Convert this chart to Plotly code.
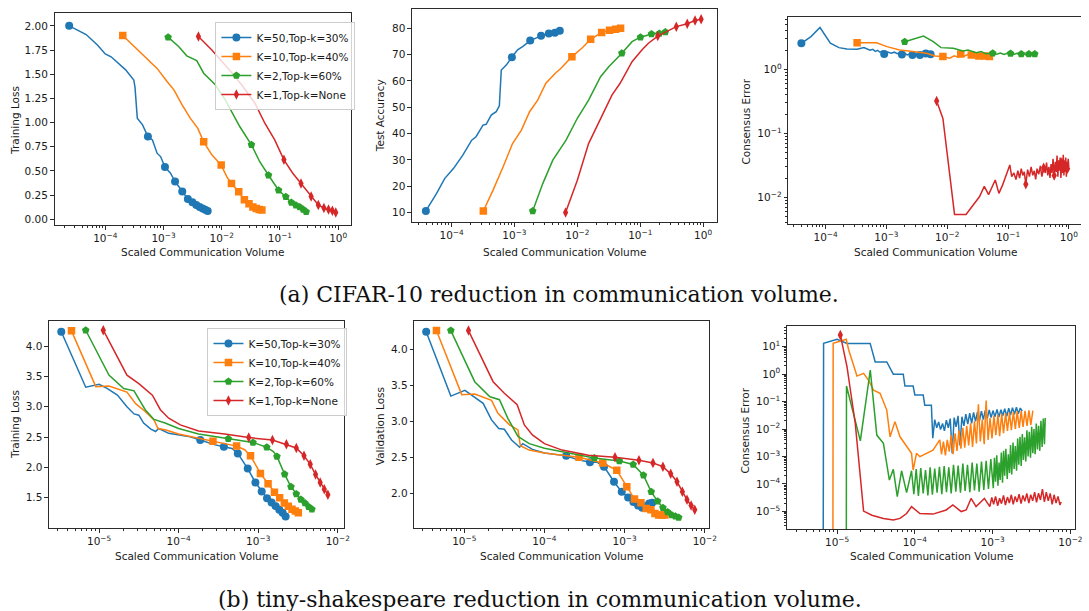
import math
import plotly.graph_objects as go

# ------------------------------------------------------------------
# Series labels, colours and marker shapes (shared by every panel)
# ------------------------------------------------------------------
SERIES_NAMES = ["K=50,Top-k=30%", "K=10,Top-k=40%", "K=2,Top-k=60%", "K=1,Top-k=None"]
COLORS = ["#1f77b4", "#ff7f0e", "#2ca02c", "#d62728"]
SYMBOLS = ["circle", "square", "pentagon", "diamond-tall"]
MSIZE = [8, 7.5, 8, 7.5]

# ------------------------------------------------------------------
# Tick values / labels
# ------------------------------------------------------------------
top_xtick_vals = [1e-4, 1e-3, 1e-2, 1e-1, 1e0]
top_xtick_text = ["10<sup>−4</sup>", "10<sup>−3</sup>", "10<sup>−2</sup>", "10<sup>−1</sup>", "10<sup>0</sup>"]
bot_xtick_vals = [1e-5, 1e-4, 1e-3, 1e-2]
bot_xtick_text = ["10<sup>−5</sup>", "10<sup>−4</sup>", "10<sup>−3</sup>", "10<sup>−2</sup>"]
cons_a_ytick_vals = [1e-2, 1e-1, 1e0]
cons_a_ytick_text = ["10<sup>−2</sup>", "10<sup>−1</sup>", "10<sup>0</sup>"]
cons_b_ytick_vals = [1e-5, 1e-4, 1e-3, 1e-2, 1e-1, 1e0, 1e1]
cons_b_ytick_text = ["10<sup>−5</sup>", "10<sup>−4</sup>", "10<sup>−3</sup>", "10<sup>−2</sup>",
                     "10<sup>−1</sup>", "10<sup>0</sup>", "10<sup>1</sup>"]
loss_a_ytick_vals = [0.0, 0.25, 0.5, 0.75, 1.0, 1.25, 1.5, 1.75, 2.0]
acc_a_ytick_vals = [10, 20, 30, 40, 50, 60, 70, 80]
loss_b_ytick_vals = [1.5, 2.0, 2.5, 3.0, 3.5, 4.0]
val_b_ytick_vals = [2.0, 2.5, 3.0, 3.5, 4.0]

# ------------------------------------------------------------------
# (a) CIFAR-10 : training loss
# ------------------------------------------------------------------
loss_a_k50_x = [2.4e-5, 4.7e-5, 7.4e-5, 1.0e-4, 1.26e-4, 1.74e-4, 2.24e-4, 3.09e-4, 3.24e-4, 3.55e-4,
                4.37e-4, 5.4e-4, 6.46e-4, 7.76e-4, 8.91e-4, 1.06e-3, 1.32e-3, 1.58e-3, 2.10e-3, 2.62e-3,
                3.14e-3, 3.66e-3, 4.18e-3, 4.70e-3, 5.22e-3, 5.74e-3]
loss_a_k50_y = [2.00, 1.91, 1.80, 1.71, 1.68, 1.60, 1.545, 1.44, 1.366, 1.045,
                0.976, 0.855, 0.82, 0.683, 0.648, 0.54, 0.476, 0.39, 0.286, 0.21,
                0.175, 0.148, 0.125, 0.11, 0.097, 0.085]
loss_a_k50_mk = [2.4e-5, 5.4e-4, 1.06e-3, 1.58e-3, 2.10e-3, 2.62e-3, 3.14e-3, 3.66e-3, 4.18e-3, 4.70e-3,
                 5.22e-3, 5.74e-3]

loss_a_k10_x = [2.0e-4, 4.37e-4, 7.76e-4, 1.15e-3, 1.51e-3, 2.09e-3, 2.88e-3, 3.89e-3, 4.9e-3, 6.76e-3,
                9.8e-3, 1.22e-2, 1.47e-2, 1.96e-2, 2.45e-2, 2.94e-2, 3.43e-2, 3.92e-2, 4.41e-2, 4.9e-2]
loss_a_k10_y = [1.90, 1.70, 1.56, 1.424, 1.338, 1.183, 1.045, 0.94, 0.80, 0.666,
                0.56, 0.441, 0.37, 0.285, 0.20, 0.16, 0.125, 0.11, 0.10, 0.095]
loss_a_k10_mk = [2.0e-4, 4.9e-3, 9.8e-3, 1.47e-2, 1.96e-2, 2.45e-2, 2.94e-2, 3.43e-2, 3.92e-2, 4.41e-2, 4.9e-2]

loss_a_k2_x = [1.2e-3, 1.82e-3, 2.51e-3, 3.72e-3, 4.90e-3, 7.76e-3, 1.15e-2, 1.58e-2, 2.04e-2, 3.24e-2,
               4.47e-2, 6.36e-2, 9.48e-2, 0.126, 0.157, 0.188, 0.219, 0.251, 0.282]
loss_a_k2_y = [1.883, 1.786, 1.69, 1.641, 1.51, 1.39, 1.234, 1.079, 0.959, 0.769,
               0.597, 0.455, 0.30, 0.232, 0.172, 0.145, 0.125, 0.10, 0.078]
loss_a_k2_mk = [1.2e-3, 3.24e-2, 6.36e-2, 9.48e-2, 0.126, 0.157, 0.188, 0.219, 0.251, 0.282]

loss_a_k1_x = [3.98e-3, 6.76e-3, 1.29e-2, 2.19e-2, 3.72e-2, 5.5e-2, 8.13e-2, 0.117, 0.166, 0.230,
               0.343, 0.456, 0.569, 0.682, 0.795, 0.908]
loss_a_k1_y = [1.89, 1.75, 1.56, 1.39, 1.20, 0.993, 0.82, 0.614, 0.476, 0.37,
               0.234, 0.148, 0.115, 0.10, 0.088, 0.07]
loss_a_k1_mk = [3.98e-3, 0.117, 0.230, 0.343, 0.456, 0.569, 0.682, 0.795, 0.908]

# ------------------------------------------------------------------
# (a) CIFAR-10 : test accuracy
# ------------------------------------------------------------------
acc_a_k50_x = [3.9e-5, 5.75e-5, 7.76e-5, 1.07e-4, 1.51e-4, 2.09e-4, 2.45e-4, 3.16e-4, 3.55e-4, 4.27e-4,
               5.13e-4, 5.75e-4, 6.17e-4, 7.41e-4, 9.1e-4, 1.12e-3, 1.35e-3, 1.78e-3, 2.65e-3, 3.52e-3,
               4.39e-3, 5.26e-3]
acc_a_k50_y = [10.6, 17.2, 22.9, 26.7, 31.8, 37.5, 38.8, 43.2, 43.5, 47.0,
               48.3, 50.5, 64.1, 66.0, 69.0, 71.8, 73.0, 75.3, 77.1, 78.0,
               78.3, 79.0]
acc_a_k50_mk = [3.9e-5, 9.1e-4, 1.78e-3, 2.65e-3, 3.52e-3, 4.39e-3, 5.26e-3]

acc_a_k10_x = [3.2e-4, 4.57e-4, 6.61e-4, 9.33e-4, 1.29e-3, 1.74e-3, 2.34e-3, 3.16e-3, 4.47e-3, 5.5e-3,
               8.2e-3, 1.2e-2, 1.63e-2, 2.44e-2, 3.25e-2, 4.06e-2, 4.87e-2]
acc_a_k10_y = [10.6, 18.5, 27.4, 36.2, 41.3, 48.3, 52.7, 59.1, 62.9, 64.8,
               69.2, 72.6, 75.8, 78.4, 79.2, 79.6, 80.0]
acc_a_k10_mk = [3.2e-4, 8.2e-3, 1.63e-2, 2.44e-2, 3.25e-2, 4.06e-2, 4.87e-2]

acc_a_k2_x = [1.95e-3, 2.82e-3, 4.07e-3, 6.61e-3, 1.0e-2, 1.51e-2, 2.34e-2, 3.16e-2, 5.1e-2, 7.41e-2,
              0.101, 0.151, 0.201, 0.251, 0.27]
acc_a_k2_y = [10.6, 21.0, 29.9, 37.5, 45.8, 52.7, 61.6, 65.4, 70.5, 74.9,
              76.6, 77.8, 78.0, 78.6, 78.7]
acc_a_k2_mk = [1.95e-3, 5.1e-2, 0.101, 0.151, 0.201, 0.251]

acc_a_k1_x = [6.5e-3, 1.0e-2, 1.51e-2, 2.45e-2, 3.55e-2, 4.79e-2, 7.41e-2, 0.107, 0.135, 0.19,
              0.375, 0.56, 0.745, 0.93]
acc_a_k1_y = [10.0, 22.3, 36.2, 46.4, 54.6, 59.1, 67.3, 71.8, 74.3, 77.0,
              80.6, 81.7, 82.9, 83.4]
acc_a_k1_mk = [6.5e-3, 0.19, 0.375, 0.56, 0.745, 0.93]

# ------------------------------------------------------------------
# (a) CIFAR-10 : consensus error
# ------------------------------------------------------------------
cons_a_k50_x = [4.0e-5, 5.75e-5, 8.1e-5, 1.2e-4, 1.66e-4, 2.24e-4, 3.31e-4, 4.27e-4, 5.37e-4, 6.0e-4,
                6.6e-4, 7.2e-4, 7.8e-4, 8.5e-4, 9.2e-4, 1.05e-3, 1.2e-3, 1.35e-3, 1.5e-3, 1.65e-3,
                1.8e-3, 2.0e-3, 2.2e-3, 2.45e-3, 2.68e-3, 2.9e-3, 3.2e-3, 3.56e-3, 3.8e-3, 4.1e-3,
                4.44e-3, 4.8e-3, 5.32e-3, 5.6e-3]
cons_a_k50_y = [2.55, 3.24, 4.5, 2.55, 2.18, 2.08, 2.05, 2.18, 1.98, 2.05,
                1.9, 1.98, 1.85, 1.92, 1.74, 1.86, 1.78, 1.85, 1.75, 1.82,
                1.71, 1.78, 1.68, 1.74, 1.67, 1.72, 1.66, 1.67, 1.74, 1.65,
                1.76, 1.70, 1.72, 1.70]
cons_a_k50_mk = [4.0e-5, 9.2e-4, 1.8e-3, 2.68e-3, 3.56e-3, 4.44e-3, 5.32e-3]

cons_a_k10_x = [3.3e-4, 6.9e-4, 1.02e-3, 1.66e-3, 2.75e-3, 4.57e-3, 6.3e-3, 8.5e-3, 1.1e-2, 1.3e-2,
                1.5e-2, 1.67e-2, 1.9e-2, 2.2e-2, 2.49e-2, 2.8e-2, 3.1e-2, 3.31e-2, 3.6e-2, 3.9e-2,
                4.13e-2, 4.5e-2, 4.95e-2, 5.3e-2]
cons_a_k10_y = [2.6, 2.6, 2.26, 2.0, 1.89, 1.78, 1.61, 1.58, 1.49, 1.62,
                1.55, 1.74, 1.6, 1.7, 1.67, 1.58, 1.68, 1.61, 1.70, 1.57,
                1.62, 1.55, 1.58, 1.52]
cons_a_k10_mk = [3.3e-4, 8.5e-3, 1.67e-2, 2.49e-2, 3.31e-2, 4.13e-2, 4.95e-2]

cons_a_k2_x = [2.0e-3, 4.07e-3, 5.9e-3, 7.9e-3, 1.26e-2, 1.82e-2, 2.2e-2, 3.0e-2, 3.6e-2, 4.3e-2,
               5.6e-2, 6.5e-2, 7.5e-2, 8.6e-2, 9.7e-2, 0.11, 0.125, 0.14, 0.155, 0.165,
               0.18, 0.195, 0.22, 0.235, 0.25, 0.275, 0.29]
cons_a_k2_y = [2.7, 3.31, 2.7, 2.18, 2.13, 1.93, 2.0, 1.82, 1.9, 1.75,
               1.78, 1.72, 1.8, 1.7, 1.78, 1.76, 1.7, 1.78, 1.68, 1.74,
               1.8, 1.68, 1.73, 1.78, 1.66, 1.74, 1.68]
cons_a_k2_mk = [2.0e-3, 5.6e-2, 0.11, 0.165, 0.22, 0.275]

cons_a_k1_x = [6.7e-3, 8.5e-3, 1.32e-2, 2.04e-2, 3.39e-2, 4.07e-2, 4.79e-2, 6.17e-2, 7.08e-2, 8.13e-2,
               9.77e-2, 0.107,
               0.115, 0.125, 0.135, 0.145, 0.155, 0.165, 0.175, 0.185, 0.196, 0.21,
               0.225, 0.24, 0.255, 0.27, 0.285, 0.30, 0.32, 0.34, 0.36, 0.385,
               0.41, 0.43, 0.45, 0.47, 0.49, 0.51, 0.53, 0.55, 0.574, 0.60,
               0.62, 0.64, 0.66, 0.68, 0.70, 0.72, 0.74, 0.763, 0.79, 0.81,
               0.83, 0.85, 0.87, 0.89, 0.91, 0.93, 0.952, 0.975, 1.0]
cons_a_k1_y = [0.32, 0.171, 0.0054, 0.0054, 0.0102, 0.0148, 0.011, 0.0186, 0.0115, 0.0155,
               0.0251, 0.032,
               0.021, 0.024, 0.019, 0.026, 0.02, 0.028, 0.022, 0.025, 0.016, 0.027,
               0.021, 0.03, 0.022, 0.026, 0.019, 0.028, 0.023, 0.031, 0.021, 0.029,
               0.024, 0.035, 0.022, 0.03, 0.02, 0.033, 0.024, 0.04, 0.022, 0.036,
               0.025, 0.045, 0.021, 0.038, 0.026, 0.042, 0.02, 0.035, 0.024, 0.046,
               0.022, 0.038, 0.025, 0.042, 0.021, 0.036, 0.028, 0.04, 0.03]
cons_a_k1_mk = [6.7e-3, 0.196, 0.385, 0.574, 0.763, 0.952]

# ------------------------------------------------------------------
# (b) tiny-shakespeare : training loss
# ------------------------------------------------------------------
loss_b_k50_x = [3.35e-6, 6.8e-6, 1.0e-5, 1.26e-5, 1.7e-5, 2.24e-5, 2.75e-5, 3.16e-5, 3.63e-5, 4.47e-5,
                5.13e-5, 5.62e-5, 7.5e-5, 1.0e-4, 1.33e-4, 1.87e-4, 2.88e-4, 3.7e-4, 4.68e-4, 5.54e-4,
                6.4e-4, 7.38e-4, 9.22e-4, 1.106e-3, 1.29e-3, 1.474e-3, 1.658e-3, 1.842e-3, 2.026e-3, 2.21e-3]
loss_b_k50_y = [4.236, 3.32, 3.37, 3.30, 3.19, 3.0, 2.88, 2.86, 2.73, 2.63,
                2.59, 2.64, 2.56, 2.53, 2.51, 2.45, 2.37, 2.34, 2.31, 2.23,
                2.1, 1.98, 1.75, 1.60, 1.49, 1.42, 1.36, 1.30, 1.25, 1.19]
b_k50_mk = [3.35e-6, 1.87e-4, 3.7e-4, 5.54e-4, 7.38e-4, 9.22e-4, 1.106e-3, 1.29e-3, 1.474e-3, 1.658e-3,
            1.842e-3, 2.026e-3, 2.21e-3]

loss_b_k10_x = [4.5e-6, 9.1e-6, 1.33e-5, 2.24e-5, 2.88e-5, 3.8e-5, 4.9e-5, 5.5e-5, 6.76e-5, 1.0e-4,
                1.78e-4, 2.70e-4, 4.2e-4, 5.35e-4, 6.76e-4, 8.0e-4, 1.066e-3, 1.33e-3, 1.6e-3, 1.86e-3,
                2.13e-3, 2.39e-3, 2.66e-3, 2.93e-3, 3.19e-3]
loss_b_k10_y = [4.25, 3.33, 3.34, 3.24, 3.05, 2.92, 2.78, 2.64, 2.62, 2.55,
                2.48, 2.43, 2.37, 2.35, 2.29, 2.19, 1.90, 1.73, 1.59, 1.50,
                1.41, 1.36, 1.31, 1.28, 1.25]
b_k10_mk = [4.5e-6, 2.70e-4, 5.35e-4, 8.0e-4, 1.066e-3, 1.33e-3, 1.6e-3, 1.86e-3, 2.13e-3, 2.39e-3,
            2.66e-3, 2.93e-3, 3.19e-3]

loss_b_k2_x = [6.8e-6, 1.33e-5, 2.04e-5, 2.75e-5, 3.8e-5, 4.9e-5, 6.76e-5, 1.0e-4, 1.78e-4, 4.2e-4,
               6.2e-4, 8.6e-4, 1.28e-3, 1.55e-3, 1.72e-3, 2.15e-3, 2.58e-3, 3.01e-3, 3.44e-3, 3.87e-3,
               4.30e-3, 4.73e-3]
loss_b_k2_y = [4.26, 3.52, 3.30, 3.26, 2.95, 2.79, 2.73, 2.64, 2.55, 2.47,
               2.44, 2.41, 2.33, 2.26, 2.18, 1.885, 1.68, 1.56, 1.47, 1.41,
               1.35, 1.31]
b_k2_mk = [6.8e-6, 4.2e-4, 8.6e-4, 1.28e-3, 1.72e-3, 2.15e-3, 2.58e-3, 3.01e-3, 3.44e-3, 3.87e-3,
           4.30e-3, 4.73e-3]

loss_b_k1_x = [1.13e-5, 2.24e-5, 3.16e-5, 4.68e-5, 5.89e-5, 7.5e-5, 1.05e-4, 1.78e-4, 3.8e-4, 7.6e-4,
               1.51e-3, 2.26e-3, 3.01e-3, 3.76e-3, 4.51e-3, 5.26e-3, 6.01e-3, 6.76e-3, 7.51e-3]
loss_b_k1_y = [4.26, 3.52, 3.38, 3.19, 2.95, 2.81, 2.70, 2.60, 2.55, 2.49,
               2.45, 2.38, 2.32, 2.19, 2.05, 1.88, 1.75, 1.64, 1.55]
b_k1_mk = [1.13e-5, 7.6e-4, 1.51e-3, 2.26e-3, 3.01e-3, 3.76e-3, 4.51e-3, 5.26e-3, 6.01e-3, 6.76e-3, 7.51e-3]

# ------------------------------------------------------------------
# (b) tiny-shakespeare : validation loss
# ------------------------------------------------------------------
val_b_k50_x = [3.35e-6, 6.8e-6, 1.02e-5, 1.35e-5, 1.72e-5, 2.19e-5, 2.69e-5, 3.16e-5, 3.89e-5, 4.9e-5,
               5.37e-5, 7.08e-5, 1.0e-4, 1.87e-4, 2.57e-4, 3.7e-4, 4.57e-4, 5.54e-4, 7.38e-4, 9.22e-4,
               1.106e-3, 1.29e-3, 1.474e-3, 1.658e-3, 1.842e-3, 2.026e-3, 2.21e-3]
val_b_k50_y = [4.245, 3.35, 3.43, 3.33, 3.25, 3.02, 2.90, 2.89, 2.74, 2.64,
               2.69, 2.61, 2.56, 2.52, 2.47, 2.43, 2.43, 2.37, 2.16, 2.02,
               1.94, 1.88, 1.83, 1.80, 1.82, 1.86, 1.87]

val_b_k10_x = [4.5e-6, 9.3e-6, 1.35e-5, 2.19e-5, 2.63e-5, 3.67e-5, 4.68e-5, 5.01e-5, 6.46e-5, 1.0e-4,
               2.70e-4, 5.35e-4, 8.0e-4, 1.066e-3, 1.33e-3, 1.6e-3, 1.86e-3, 2.13e-3, 2.39e-3, 2.66e-3,
               2.93e-3, 3.19e-3]
val_b_k10_y = [4.26, 3.37, 3.38, 3.29, 3.11, 2.95, 2.88, 2.66, 2.60, 2.56,
               2.50, 2.42, 2.32, 2.09, 1.92, 1.87, 1.79, 1.77, 1.72, 1.70,
               1.70, 1.70]

val_b_k2_x = [6.8e-6, 1.35e-5, 2.09e-5, 2.75e-5, 3.5e-5, 4.68e-5, 6.46e-5, 1.0e-4, 2.24e-4, 4.2e-4,
              8.6e-4, 1.28e-3, 1.72e-3, 2.15e-3, 2.58e-3, 3.01e-3, 3.44e-3, 3.87e-3, 4.30e-3, 4.73e-3]
val_b_k2_y = [4.26, 3.55, 3.34, 3.30, 3.04, 2.79, 2.69, 2.625, 2.55, 2.49,
              2.45, 2.40, 2.25, 2.02, 1.89, 1.80, 1.74, 1.70, 1.68, 1.665]

val_b_k1_x = [1.13e-5, 2.29e-5, 3.16e-5, 4.57e-5, 5.62e-5, 7.08e-5, 1.0e-4, 1.66e-4, 3.55e-4, 7.6e-4,
              1.51e-3, 2.26e-3, 3.01e-3, 3.76e-3, 4.51e-3, 5.26e-3, 6.01e-3, 6.76e-3, 7.51e-3]
val_b_k1_y = [4.26, 3.55, 3.39, 3.23, 2.95, 2.81, 2.69, 2.60, 2.53, 2.50,
              2.46, 2.42, 2.37, 2.27, 2.16, 2.02, 1.91, 1.83, 1.77]

# ------------------------------------------------------------------
# (b) tiny-shakespeare : consensus error (first logged value is ~0)
# ------------------------------------------------------------------
cons_b_k50_x = [6.6e-6, 6.7e-6, 1.0e-5, 1.34e-5, 1.8e-5, 2.66e-5, 3.09e-5, 4.35e-5, 5.28e-5, 7.09e-5,
                7.45e-5, 9.5e-5, 1.0e-4, 1.28e-4, 1.34e-4, 1.63e-4,
                1.70e-4, 1.80e-4, 1.91e-4, 2.02e-4, 2.14e-4, 2.27e-4, 2.40e-4, 2.54e-4, 2.69e-4, 2.85e-4,
                3.02e-4, 3.20e-4, 3.39e-4, 3.59e-4, 3.80e-4, 4.03e-4, 4.27e-4, 4.52e-4, 4.79e-4, 5.07e-4,
                5.37e-4, 5.69e-4, 6.03e-4, 6.39e-4, 6.77e-4, 7.17e-4, 7.59e-4, 8.04e-4, 8.52e-4, 9.03e-4,
                9.56e-4, 1.01e-3, 1.07e-3, 1.14e-3, 1.20e-3, 1.28e-3, 1.35e-3, 1.43e-3, 1.52e-3, 1.61e-3,
                1.70e-3, 1.80e-3, 1.91e-3, 2.02e-3, 2.14e-3, 2.27e-3, 2.40e-3]
cons_b_k50_y = [1e-9, 13.2, 18.6, 13.2, 13.2, 13.2, 2.8, 2.8, 1.0, 1.0,
                0.37, 0.37, 0.174, 0.174, 0.074, 0.074,
                0.0046, 0.022, 0.011, 0.018, 0.0095, 0.016, 0.0085, 0.021, 0.011, 0.024,
                0.0013, 0.026, 0.012, 0.03, 0.0025, 0.028, 0.013, 0.035, 0.015, 0.038,
                0.016, 0.04, 0.019, 0.042, 0.02, 0.045, 0.022, 0.048, 0.024, 0.05,
                0.026, 0.047, 0.028, 0.052, 0.027, 0.05, 0.03, 0.055, 0.029, 0.058,
                0.032, 0.06, 0.034, 0.062, 0.036, 0.058, 0.045]

cons_b_k10_x = [8.8e-6, 8.9e-6, 1.31e-5, 1.41e-5, 1.8e-5, 2.19e-5, 2.53e-5, 2.94e-5, 3.57e-5, 4.35e-5,
                4.8e-5, 5.55e-5, 6.44e-5, 7.83e-5, 9.06e-5, 9.5e-5, 1.05e-4, 1.16e-4, 1.41e-4, 1.71e-4,
                2.09e-4,
                2.20e-4, 2.33e-4, 2.47e-4, 2.61e-4, 2.77e-4, 2.93e-4, 3.10e-4, 3.29e-4, 3.48e-4, 3.69e-4,
                3.91e-4, 4.14e-4, 4.38e-4, 4.64e-4, 4.92e-4, 5.21e-4, 5.52e-4, 5.84e-4, 6.19e-4, 6.56e-4,
                6.94e-4, 7.36e-4, 7.79e-4, 8.25e-4, 8.74e-4, 9.26e-4, 9.81e-4, 1.04e-3, 1.10e-3, 1.17e-3,
                1.23e-3, 1.31e-3, 1.38e-3, 1.47e-3, 1.55e-3, 1.65e-3, 1.74e-3, 1.85e-3, 1.96e-3, 2.07e-3,
                2.20e-3, 2.33e-3, 2.46e-3, 2.61e-3, 2.77e-3, 2.93e-3, 3.10e-3, 3.29e-3]
cons_b_k10_y = [1e-9, 13.2, 18.6, 7.6, 0.85, 1.07, 0.61, 0.26, 0.2, 0.049,
                0.0052, 0.0186, 0.0052, 0.0023, 0.0013, 3.2e-4, 0.0013, 9.8e-4, 0.0013, 0.0017,
                0.004,
                0.0012, 0.0035, 0.0011, 0.004, 0.0015, 0.006, 0.0012, 0.007, 0.0016, 0.009,
                0.0019, 0.011, 0.0021, 0.013, 0.0025, 0.016, 0.0022, 0.019, 0.003, 0.08,
                0.0035, 0.022, 0.0028, 0.11, 0.004, 0.025, 0.0045, 0.03, 0.006, 0.033,
                0.0055, 0.035, 0.007, 0.038, 0.0085, 0.04, 0.009, 0.042, 0.01, 0.044,
                0.011, 0.045, 0.012, 0.046, 0.013, 0.048, 0.014, 0.047]

cons_b_k2_x = [1.31e-5, 1.32e-5, 1.99e-5, 2.67e-5, 3.24e-5, 3.94e-5, 4.7e-5, 5.28e-5, 5.94e-5, 6.75e-5,
               7.83e-5, 9.06e-5,
               9.7e-5, 1.04e-4, 1.11e-4, 1.19e-4, 1.28e-4, 1.37e-4, 1.47e-4, 1.57e-4, 1.68e-4, 1.80e-4,
               1.93e-4, 2.07e-4, 2.22e-4, 2.38e-4, 2.55e-4, 2.73e-4, 2.93e-4, 3.14e-4, 3.36e-4, 3.60e-4,
               3.86e-4, 4.14e-4, 4.43e-4, 4.75e-4, 5.09e-4, 5.45e-4, 5.84e-4, 6.26e-4, 6.71e-4, 7.19e-4,
               7.70e-4, 8.25e-4, 8.84e-4, 9.48e-4,
               1.02e-3, 1.055e-3, 1.09e-3, 1.13e-3, 1.17e-3, 1.21e-3, 1.25e-3, 1.295e-3, 1.34e-3, 1.385e-3,
               1.43e-3, 1.48e-3, 1.54e-3, 1.59e-3, 1.65e-3, 1.70e-3, 1.76e-3, 1.83e-3, 1.89e-3, 1.96e-3,
               2.03e-3, 2.10e-3, 2.17e-3, 2.25e-3, 2.33e-3, 2.41e-3, 2.49e-3, 2.58e-3, 2.67e-3, 2.76e-3,
               2.86e-3, 2.96e-3, 3.07e-3, 3.18e-3, 3.29e-3, 3.40e-3, 3.52e-3, 3.64e-3, 3.77e-3, 3.90e-3,
               4.04e-3, 4.18e-3, 4.33e-3, 4.48e-3, 4.64e-3, 4.75e-3]
cons_b_k2_y = [1e-9, 0.37, 0.0037, 1.41, 0.006, 0.003, 1.38e-4, 3.4e-4, 3.4e-5, 3.0e-4,
               4.8e-5, 3.0e-4,
               4.2e-5, 3.5e-4, 3.6e-5, 3.8e-4, 4.5e-5, 3.2e-4, 3.8e-5, 4.0e-4, 4.0e-5, 3.6e-4,
               4.8e-5, 4.2e-4, 4.2e-5, 4.5e-4, 5.0e-5, 4.0e-4, 4.5e-5, 5.0e-4, 5.2e-5, 4.6e-4,
               4.8e-5, 5.5e-4, 5.5e-5, 5.0e-4, 5.0e-5, 6.0e-4, 5.8e-5, 5.5e-4, 5.2e-5, 6.5e-4,
               6.0e-5, 7.0e-4, 6.5e-5, 8.0e-4,
               7.0e-5, 9.0e-4, 1.2e-4, 1.1e-3, 8.5e-5, 6.0e-4, 1.4e-4, 1.4e-3, 1.1e-4, 1.6e-3,
               2.0e-4, 1.9e-3, 1.5e-4, 1.2e-3, 2.5e-4, 2.6e-3, 2.2e-4, 3.2e-3, 3.5e-4, 2.4e-3,
               3.0e-4, 4.5e-3, 5.0e-4, 5.2e-3, 4.5e-4, 6.5e-3, 7.5e-4, 5.0e-3, 6.5e-4, 9.0e-3,
               1.0e-3, 8.0e-3, 9.0e-4, 1.2e-2, 1.3e-3, 1.0e-2, 1.2e-3, 1.6e-2, 1.8e-3, 1.3e-2,
               1.6e-3, 2.0e-2, 2.2e-3, 2.4e-2, 2.8e-3, 2.5e-2]

cons_b_k1_x = [1.1e-5, 1.34e-5, 1.71e-5, 2.19e-5, 2.8e-5, 3.94e-5, 5.28e-5, 6.44e-5, 7.83e-5, 9.06e-5,
               1.16e-4, 1.71e-4, 2.53e-4, 3.08e-4, 3.94e-4, 4.57e-4, 5.28e-4, 6.12e-4, 7.1e-4, 7.83e-4,
               8.63e-4,
               9.2e-4, 9.75e-4, 1.03e-3, 1.09e-3, 1.16e-3, 1.23e-3, 1.30e-3, 1.38e-3, 1.46e-3, 1.55e-3,
               1.64e-3, 1.74e-3, 1.84e-3, 1.95e-3, 2.06e-3, 2.19e-3, 2.32e-3, 2.45e-3, 2.60e-3, 2.75e-3,
               2.92e-3, 3.09e-3, 3.27e-3, 3.47e-3, 3.67e-3, 3.89e-3, 4.12e-3, 4.37e-3, 4.63e-3, 4.90e-3,
               5.19e-3, 5.50e-3, 5.83e-3, 6.17e-3, 6.54e-3, 6.93e-3, 7.34e-3, 7.6e-3]
cons_b_k1_y = [27.0, 1.86, 0.0162, 1.02e-5, 7.2e-6, 5.5e-6, 4.8e-6, 5.5e-6, 8.3e-6, 1.48e-5,
               8.3e-6, 7.9e-6, 1.12e-5, 1.7e-5, 9.8e-6, 1.12e-5, 2.95e-5, 1.48e-5, 2.24e-5, 2.95e-5,
               1.95e-5,
               1.5e-5, 3.2e-5, 1.8e-5, 3.5e-5, 1.6e-5, 3.0e-5, 1.9e-5, 3.8e-5, 1.7e-5, 3.3e-5,
               2.0e-5, 4.0e-5, 1.8e-5, 3.5e-5, 2.2e-5, 4.2e-5, 1.9e-5, 3.8e-5, 2.3e-5, 4.5e-5,
               2.0e-5, 4.0e-5, 2.4e-5, 5.0e-5, 2.1e-5, 4.6e-5, 2.6e-5, 6.5e-5, 2.2e-5, 5.0e-5,
               2.4e-5, 4.5e-5, 1.8e-5, 4.0e-5, 2.0e-5, 3.5e-5, 1.7e-5, 2.2e-5]
cons_b_k1_mk = [1.1e-5]

# ------------------------------------------------------------------
# Figure layout (pixel boxes of each axes frame)
# ------------------------------------------------------------------
W, H = 1089, 611
FONT = "DejaVu Sans"
INK = "#1a1a1a"
SPINE = "#2b2b2b"

# (left, right, top, bottom) in pixels, x range (log10), y range, y is log
PANELS = [
    dict(box=(55, 354, 13.3, 225), xr=(-4.87, 0.227), yr=(-0.06, 2.13), ylog=False,
         yticks=loss_a_ytick_vals, yfmt=".2f", xt=(top_xtick_vals, top_xtick_text)),
    dict(box=(415, 722, 9, 222.3), xr=(-4.63, 0.216), yr=(6.3, 87.3), ylog=False,
         yticks=acc_a_ytick_vals, yfmt="d", xt=(top_xtick_vals, top_xtick_text)),
    dict(box=(794, 1089, 17, 224), xr=(-4.615, 0.20), yr=(-2.417, 0.817), ylog=True,
         yt=(cons_a_ytick_vals, cons_a_ytick_text), xt=(top_xtick_vals, top_xtick_text), open_right=True),
    dict(box=(49.3, 346.7, 320.7, 528.3), xr=(-5.63, -1.92), yr=(0.995, 4.417), ylog=False,
         yticks=loss_b_ytick_vals, yfmt=".1f", xt=(bot_xtick_vals, bot_xtick_text)),
    dict(box=(417.3, 714, 320.7, 528.3), xr=(-5.624, -1.95), yr=(1.514, 4.397), ylog=False,
         yticks=val_b_ytick_vals, yfmt=".1f", xt=(bot_xtick_vals, bot_xtick_text)),
    dict(box=(792.7, 1082.7, 326, 529), xr=(-5.646, -1.944), yr=(-5.645, 1.755), ylog=True,
         yt=(cons_b_ytick_vals, cons_b_ytick_text), xt=(bot_xtick_vals, bot_xtick_text)),
]

Y_TITLES = ["Training Loss", "Test Accuracy", "Consensus Error",
            "Training Loss", "Validation Loss", "Consensus Error"]
Y_TITLE_POS = [(15, 120), (383, 116), (752, 121), (15, 424), (383, 426), (751, 430)]
X_TITLE_POS = [(204.5, 251.7), (568.7, 251.7), (942.5, 251.7),
               (197.5, 555.7), (565.8, 555.7), (938.2, 555.7)]
X_TITLE = "Scaled Communication Volume"
CAPTIONS = ["(a) CIFAR-10 reduction in communication volume.",
            "(b) tiny-shakespeare reduction in communication volume."]
CAPTION_POS = [(563, 294), (544, 599)]


def log_minor(lo, hi):
    vals = []
    for k in range(int(math.floor(lo)), int(math.ceil(hi)) + 1):
        for m in range(2, 10):
            v = m * 10.0 ** k
            if lo <= math.log10(v) <= hi:
                vals.append(v)
    return vals


def axis_common():
    return dict(showline=True, linecolor=SPINE, linewidth=1, mirror=True,
                ticks="outside", ticklen=3.5, tickwidth=1, tickcolor=SPINE,
                showgrid=False, zeroline=False,
                tickfont=dict(family=FONT, size=10.5, color=INK))


fig = go.Figure()

layout = dict(width=W, height=H, margin=dict(l=0, r=0, t=0, b=0),
              paper_bgcolor="white", plot_bgcolor="white",
              font=dict(family=FONT, size=10.5, color=INK))

for i, p in enumerate(PANELS, start=1):
    left, right, top, bottom = p["box"]
    xa = axis_common()
    xa.update(type="log", range=list(p["xr"]), domain=[left / W, right / W],
              anchor="y%d" % i, tickmode="array", tickvals=p["xt"][0], ticktext=p["xt"][1],
              minor=dict(ticks="outside", ticklen=2, tickwidth=0.8, tickcolor=SPINE,
                         tickmode="array", tickvals=log_minor(*p["xr"])))
    ya = axis_common()
    ya.update(range=list(p["yr"]), domain=[1 - bottom / H, 1 - top / H], anchor="x%d" % i)
    if p["ylog"]:
        ya.update(type="log", tickmode="array", tickvals=p["yt"][0], ticktext=p["yt"][1],
                  minor=dict(ticks="outside", ticklen=2, tickwidth=0.8, tickcolor=SPINE,
                             tickmode="array", tickvals=log_minor(*p["yr"])))
    else:
        ya.update(tickmode="array", tickvals=p["yticks"],
                  ticktext=[format(v, p["yfmt"]) for v in p["yticks"]])
    if p.get("open_right"):
        ya["mirror"] = False
    key = "" if i == 1 else str(i)
    layout["xaxis" + key] = xa
    layout["yaxis" + key] = ya


def add_series(panel, s, xs, ys, mk):
    mkset = set(mk)
    sizes = [MSIZE[s] if x in mkset else 0 for x in xs]
    fig.add_trace(go.Scatter(
        x=xs, y=ys, mode="lines+markers", showlegend=False,
        line=dict(color=COLORS[s], width=1.5),
        marker=dict(symbol=SYMBOLS[s], size=sizes, color=COLORS[s], opacity=1,
                    line=dict(width=0)),
        xaxis="x%d" % panel if panel > 1 else "x",
        yaxis="y%d" % panel if panel > 1 else "y",
        hoverinfo="skip"))


panel_series = {
    1: [(loss_a_k50_x, loss_a_k50_y, loss_a_k50_mk), (loss_a_k10_x, loss_a_k10_y, loss_a_k10_mk),
        (loss_a_k2_x, loss_a_k2_y, loss_a_k2_mk), (loss_a_k1_x, loss_a_k1_y, loss_a_k1_mk)],
    2: [(acc_a_k50_x, acc_a_k50_y, acc_a_k50_mk), (acc_a_k10_x, acc_a_k10_y, acc_a_k10_mk),
        (acc_a_k2_x, acc_a_k2_y, acc_a_k2_mk), (acc_a_k1_x, acc_a_k1_y, acc_a_k1_mk)],
    3: [(cons_a_k50_x, cons_a_k50_y, cons_a_k50_mk), (cons_a_k10_x, cons_a_k10_y, cons_a_k10_mk),
        (cons_a_k2_x, cons_a_k2_y, cons_a_k2_mk), (cons_a_k1_x, cons_a_k1_y, cons_a_k1_mk)],
    4: [(loss_b_k50_x, loss_b_k50_y, b_k50_mk), (loss_b_k10_x, loss_b_k10_y, b_k10_mk),
        (loss_b_k2_x, loss_b_k2_y, b_k2_mk), (loss_b_k1_x, loss_b_k1_y, b_k1_mk)],
    5: [(val_b_k50_x, val_b_k50_y, b_k50_mk), (val_b_k10_x, val_b_k10_y, b_k10_mk),
        (val_b_k2_x, val_b_k2_y, b_k2_mk), (val_b_k1_x, val_b_k1_y, b_k1_mk)],
    6: [(cons_b_k50_x, cons_b_k50_y, []), (cons_b_k10_x, cons_b_k10_y, []),
        (cons_b_k2_x, cons_b_k2_y, []), (cons_b_k1_x, cons_b_k1_y, cons_b_k1_mk)],
}

for panel, series in panel_series.items():
    for s, (xs, ys, mk) in enumerate(series):
        add_series(panel, s, xs, ys, mk)

# legend entries (one legend per row)
for legend_id, ax in (("legend", ("x", "y")), ("legend2", ("x4", "y4"))):
    for s, name in enumerate(SERIES_NAMES):
        fig.add_trace(go.Scatter(
            x=[None], y=[None], mode="lines+markers", name=name, legend=legend_id,
            line=dict(color=COLORS[s], width=1.5),
            marker=dict(symbol=SYMBOLS[s], size=MSIZE[s], color=COLORS[s], line=dict(width=0)),
            xaxis=ax[0], yaxis=ax[1]))

legend_style = dict(xanchor="left", yanchor="top", bgcolor="rgba(255,255,255,0.8)",
                    bordercolor="#cccccc", borderwidth=1, itemwidth=30, tracegroupgap=0,
                    font=dict(family=FONT, size=10.5, color=INK))
layout["legend"] = dict(x=217 / W, y=1 - 22 / H, **legend_style)
layout["legend2"] = dict(x=209 / W, y=1 - 328 / H, **legend_style)

annotations = []
for (tx, ty), text in zip(Y_TITLE_POS, Y_TITLES):
    annotations.append(dict(x=tx / W, y=1 - ty / H, xref="paper", yref="paper", text=text,
                            textangle=-90, showarrow=False, xanchor="center", yanchor="middle",
                            font=dict(family=FONT, size=10.5, color=INK)))
for tx, ty in X_TITLE_POS:
    annotations.append(dict(x=tx / W, y=1 - ty / H, xref="paper", yref="paper", text=X_TITLE,
                            showarrow=False, xanchor="center", yanchor="middle",
                            font=dict(family=FONT, size=10.5, color=INK)))
for (tx, ty), text in zip(CAPTION_POS, CAPTIONS):
    annotations.append(dict(x=tx / W, y=1 - ty / H, xref="paper", yref="paper", text=text,
                            showarrow=False, xanchor="center", yanchor="middle",
                            font=dict(family="DejaVu Serif", size=22, color="#111111")))
layout["annotations"] = annotations

fig.update_layout(**layout)
fig.write_html("out.html")
